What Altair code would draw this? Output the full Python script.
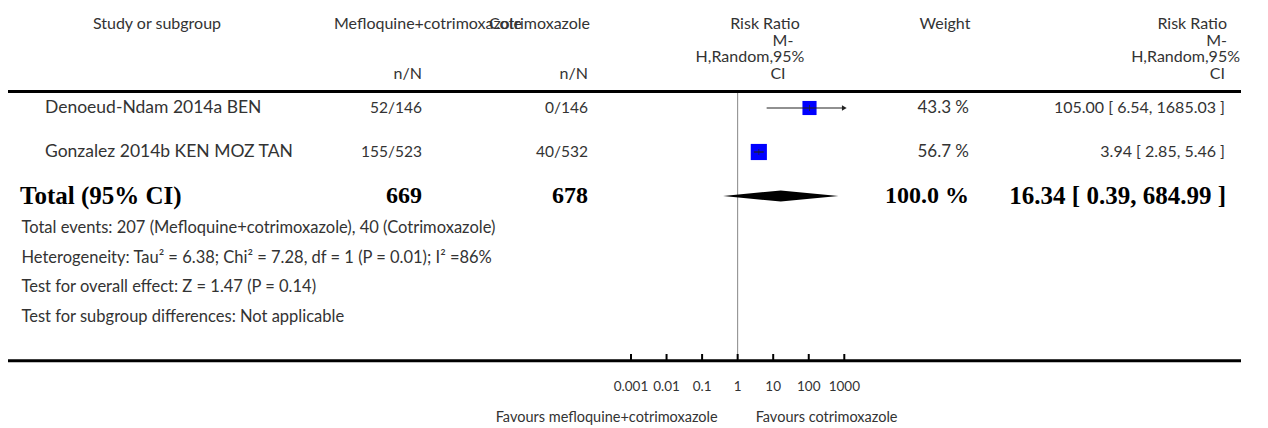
import altair as alt
import pandas as pd

# ---------------- data ----------------
studies = ["Denoeud-Ndam 2014a BEN", "Gonzalez 2014b KEN MOZ TAN"]
exp_nN = ["52/146", "155/523"]
ctl_nN = ["0/146", "40/532"]
rr = [105.00, 3.94]
rr_lo = [6.54, 2.85]
rr_hi = [1685.03, 5.46]
weights = [43.3, 56.7]

total_label = "Total (95% CI)"
total_exp = 669
total_ctl = 678
total_rr = 16.34
total_lo = 0.39
total_hi = 684.99
total_weight = 100.0

footnotes = [
    "Total events: 207 (Mefloquine+cotrimoxazole), 40 (Cotrimoxazole)",
    "Heterogeneity: Tau\u00b2 = 6.38; Chi\u00b2 = 7.28, df = 1 (P = 0.01); I\u00b2 =86%",
    "Test for overall effect: Z = 1.47 (P = 0.14)",
    "Test for subgroup differences: Not applicable",
]

tick_values = [0.001, 0.01, 0.1, 1, 10, 100, 1000]
tick_labels = ["0.001", "0.01", "0.1", "1", "10", "100", "1000"]
favours_left = "Favours mefloquine+cotrimoxazole"
favours_right = "Favours cotrimoxazole"

# ---------------- layout / style ----------------
W, H = 1252, 420
FONT = "Lato"
SERIF = "Liberation Serif"
TXT = "#333333"
XMIN, XMAX = 0.001, 1000
ROW_PX = 44.0

xs = alt.Scale(type="log", domain=[XMIN, XMAX], range=[623, 836.3])
ys = alt.Scale(type="linear", domain=[1, 3], range=[100, 188])

studies_df = pd.DataFrame({
    "study": studies, "exp": exp_nN, "ctl": ctl_nN,
    "rr": rr, "lo": rr_lo, "hi": rr_hi, "w": weights,
    "row": list(range(1, len(studies) + 1)),
})
studies_df["hi_c"] = studies_df["hi"].clip(upper=XMAX)
studies_df["lo_c"] = studies_df["lo"].clip(lower=XMIN)
studies_df["wtxt"] = studies_df["w"].map(lambda v: f"{v:.1f} %")
studies_df["rrtxt"] = [f"{a:.2f} [ {b:.2f}, {c:.2f} ]" for a, b, c in zip(rr, rr_lo, rr_hi)]
arrow_df = studies_df[studies_df["hi"] > XMAX]

total_row = len(studies) + 1
total_df = pd.DataFrame({
    "row": [total_row], "label": [total_label],
    "exp": [str(total_exp)], "ctl": [str(total_ctl)],
    "wtxt": [f"{total_weight:.1f} %"],
    "rrtxt": [f"{total_rr:.2f} [ {total_lo:.2f}, {total_hi:.2f} ]"],
})
half = 5.5 / ROW_PX
diamond_df = pd.DataFrame({
    "x": [total_lo, total_rr, total_hi],
    "yt": [total_row, total_row - half, total_row],
    "yb": [total_row, total_row + half, total_row],
})

foot_df = pd.DataFrame({"txt": footnotes})
foot_df["row"] = [total_row + (32 + 29.5 * i) / ROW_PX for i in range(len(footnotes))]
tick_df = pd.DataFrame({"v": tick_values, "lab": tick_labels})
one = pd.DataFrame({"a": [0]})


def txt(**kw):
    base = dict(font=FONT, fontSize=17, color=TXT, baseline="middle")
    base.update(kw)
    return base


Y = alt.Y("row:Q", scale=ys, axis=None)
layers = []

# header
HY = [16, 32.5, 49, 66]
hdr = [
    ("Study or subgroup", 149, HY[0], "center"),
    ("Mefloquine+cotrimoxazole", 326, HY[0], "left"),
    ("Cotrimoxazole", 582, HY[0], "right"),
    ("n/N", 414, HY[3], "right"),
    ("n/N", 580, HY[3], "right"),
    ("Weight", 937, HY[0], "center"),
    # left risk-ratio header
    ("Risk Ratio", 757, HY[0], "center"),
    ("M-", 775, HY[1], "center"),
    ("H,Random,95%", 742, HY[2], "center"),
    ("CI", 770, HY[3], "center"),
    # right risk-ratio header
    ("Risk Ratio", 1219, HY[0], "right"),
    ("M-", 1219, HY[1], "right"),
    ("H,Random,95%", 1232, HY[2], "right"),
    ("CI", 1217, HY[3], "right"),
]
for t, x, y, al in hdr:
    layers.append(alt.Chart(one).mark_text(**txt(align=al, text=t, fontSize=16)).encode(
        x=alt.value(x), y=alt.value(y)))

# rules
for y in (83.5, 352.7):
    layers.append(alt.Chart(one).mark_rule(color="black", strokeWidth=3).encode(
        x=alt.value(0), x2=alt.value(1233), y=alt.value(y)))

# reference line at RR = 1
layers.append(alt.Chart(pd.DataFrame({"v": [1.0]})).mark_rule(color="#888888", strokeWidth=1).encode(
    x=alt.X("v:Q", scale=xs, axis=None), y=alt.value(85), y2=alt.value(352.7)))

# study rows text
sc = alt.Chart(studies_df)
layers += [
    sc.mark_text(**txt(align="left", fontSize=17.5)).encode(x=alt.value(37), y=Y, text="study:N"),
    sc.mark_text(**txt(align="right", fontSize=15.5)).encode(x=alt.value(414), y=Y, text="exp:N"),
    sc.mark_text(**txt(align="right", fontSize=15.5)).encode(x=alt.value(580), y=Y, text="ctl:N"),
    sc.mark_text(**txt(align="right")).encode(x=alt.value(961), y=Y, text="wtxt:N"),
    sc.mark_text(**txt(align="right", fontSize=16)).encode(x=alt.value(1217), y=Y, text="rrtxt:N"),
]

# forest: squares, CI lines, centre ticks, arrows
layers.append(sc.mark_square(color="#0000ff", opacity=1).encode(
    x=alt.X("rr:Q", scale=xs, axis=None), y=Y,
    size=alt.Size("w:Q", scale=alt.Scale(domain=[0, 100], range=[0, 460]), legend=None)))
layers.append(sc.mark_rule(color="#222222", strokeWidth=1.2).encode(
    x=alt.X("lo_c:Q", scale=xs, axis=None), x2="hi_c:Q", y=Y))
layers.append(sc.mark_tick(color="#222222", thickness=1, size=6, orient="vertical").encode(
    x=alt.X("rr:Q", scale=xs, axis=None), y=Y))
layers.append(alt.Chart(arrow_df).mark_point(shape="triangle-right", filled=True, color="#222222", size=30, opacity=1).encode(
    x=alt.X("hi_c:Q", scale=xs, axis=None), y=Y))

# total row
tc = alt.Chart(total_df)
bold = dict(font=SERIF, fontSize=24, fontWeight="bold", color="#000000", baseline="middle")
layers += [
    tc.mark_text(align="left", **{**bold, "fontSize": 25}).encode(x=alt.value(12), y=Y, text="label:N"),
    tc.mark_text(align="right", **bold).encode(x=alt.value(414), y=Y, text="exp:N"),
    tc.mark_text(align="right", **bold).encode(x=alt.value(580), y=Y, text="ctl:N"),
    tc.mark_text(align="right", **bold).encode(x=alt.value(961), y=Y, text="wtxt:N"),
    tc.mark_text(align="right", **{**bold, "fontSize": 25}).encode(x=alt.value(1218), y=Y, text="rrtxt:N"),
]
layers.append(alt.Chart(diamond_df).mark_area(color="black", opacity=1, interpolate="linear").encode(
    x=alt.X("x:Q", scale=xs, axis=None),
    y=alt.Y("yt:Q", scale=ys, axis=None), y2="yb:Q"))

# footnotes
layers.append(alt.Chart(foot_df).mark_text(**txt(align="left", fontSize=16.5)).encode(
    x=alt.value(13.5), y=Y, text="txt:N"))

# axis ticks + labels
tk = alt.Chart(tick_df)
layers.append(tk.mark_rule(color="black", strokeWidth=2).encode(
    x=alt.X("v:Q", scale=xs, axis=None), y=alt.value(346), y2=alt.value(353)))
layers.append(tk.mark_text(**txt(align="center", fontSize=13.5)).encode(
    x=alt.X("v:Q", scale=xs, axis=None), y=alt.value(379), text="lab:N"))

fav_df = pd.DataFrame({"v": [1.0], "l": [favours_left], "r": [favours_right]})
fv = alt.Chart(fav_df)
layers.append(fv.mark_text(**txt(align="right", fontSize=14.5, dx=-20)).encode(
    x=alt.X("v:Q", scale=xs, axis=None), y=alt.value(410), text="l:N"))
layers.append(fv.mark_text(**txt(align="left", fontSize=14.5, dx=18)).encode(
    x=alt.X("v:Q", scale=xs, axis=None), y=alt.value(410), text="r:N"))

chart = alt.layer(*layers).properties(
    width=W, height=H, padding=0,
    autosize=alt.AutoSizeParams(type="none"),
).configure_view(stroke=None)

chart.save("out.html", embed_options={"renderer": "svg", "actions": False})
